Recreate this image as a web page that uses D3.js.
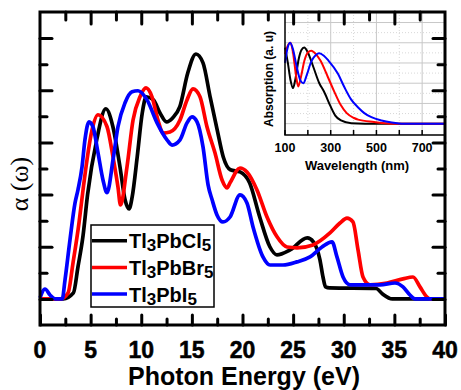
<!DOCTYPE html>
<html>
<head>
<meta charset="utf-8">
<script src="https://cdn.jsdelivr.net/npm/d3@7"></script>
<style>
body{margin:0;background:#fff;}
svg{display:block;font-family:"Liberation Sans",Arial,sans-serif;}
</style>
</head>
<body>
<svg id="chart" width="461" height="390"></svg>
<script>
// main panel: alpha(omega) vs photon energy (eV)
var energyMajor = [0,5,10,15,20,25,30,35,40];
var energyMinor = [2.5,7.5,12.5,17.5,22.5,27.5,32.5,37.5];
var alphaMajor = [0,2,4,6,8,10];
var alphaMinor = [1,3,5,7,9];

var tlCl = [[0,0],[2.3,0],[3.3,0.23],[3.75,1.23],[4.25,2.42],[4.7,4.0],[5.6,6.1],[6.5,7.29],[7.2,6.6],[7.9,5.06],
  [8.4,3.8],[8.8,3.45],[9.1,3.9],[9.6,5.44],[10.1,7.13],[10.5,7.75],[11.2,7.63],[11.85,7.13],[12.5,6.79],[13.1,6.94],
  [13.8,7.36],[14.6,8.67],[15.4,9.39],[16.1,9.05],[16.8,7.75],[17.5,6.48],[18.1,5.44],[18.8,4.95],[19.75,4.87],
  [20.7,4.45],[21.7,3.14],[22.7,2.0],[23.4,1.69],[24.7,1.88],[26.4,2.34],[27.0,2.19],[27.65,1.5],[27.95,0.84],
  [28.2,0.46],[28.6,0.42],[33.2,0.4],[33.8,0.2],[34.8,0],[40,0]];
var tlBr = [[0,0],[2.0,0],[2.77,0.23],[3.26,1.38],[3.85,2.91],[4.25,4.18],[4.64,5.33],[5.14,6.48],[5.73,7.06],
  [6.62,6.6],[7.21,5.44],[7.7,4.29],[7.95,3.6],[8.59,5.06],[9.19,6.86],[9.88,7.75],[10.47,8.09],[11.06,7.75],
  [11.65,6.86],[12.15,6.36],[12.84,6.4],[13.83,6.86],[14.52,7.63],[15.11,8.05],[15.8,7.75],[16.49,6.6],[17.28,5.6],
  [17.98,4.56],[18.47,4.26],[18.77,4.45],[19.75,5.02],[20.44,4.87],[21.43,4.18],[22.42,3.14],[23.41,2.38],
  [24.4,1.99],[25.38,1.96],[26.96,2.07],[28.64,2.53],[29.63,2.91],[30.32,3.1],[30.91,2.95],[31.41,1.88],
  [31.9,0.84],[32.6,0.54],[34.27,0.61],[35.85,0.77],[36.84,0.84],[37.53,0.46],[38.2,0.08],[38.5,0],[40,0]];
var tlI = [[0,0.04],[0.49,0.38],[0.99,0.15],[1.5,0],[2.2,0],[2.47,0.73],[2.96,2.26],[3.46,3.68],[3.75,4.18],
  [4.15,5.06],[4.44,6.1],[4.84,6.79],[5.23,6.6],[5.73,5.6],[6.22,4.56],[6.62,4.07],[7.21,5.33],[7.7,6.6],
  [8.4,7.52],[9.09,7.94],[9.68,7.98],[10.57,7.63],[11.56,6.75],[12.54,6.1],[13.04,5.9],[13.83,6.1],[14.52,6.75],
  [15.01,6.98],[15.51,6.79],[16.1,5.83],[16.6,4.37],[17.0,3.8],[17.48,3.22],[18.07,2.95],[18.77,3.14],
  [19.75,3.99],[20.44,3.68],[21.04,2.76],[22.02,1.61],[22.72,1.3],[24.0,1.3],[25.38,1.42],[26.67,1.61],
  [27.85,1.99],[28.84,2.19],[29.33,1.61],[29.93,0.84],[30.62,0.54],[33.58,0.54],[35.06,0.61],[35.85,0.46],
  [36.54,0.15],[37.04,0],[40,0]];

// inset: absorption vs wavelength (nm)
var waveLabels = [100,300,500,700];
var waveTicks = [100,200,300,400,500,600,700,800];
var waveGridMajor = [300,500,700];
var waveGridMinor = [200,400,600];
var absGridMajor = [0,0.25,0.5,0.75,1,1.25];
var absGridMinor = [0.125,0.375,0.625,0.875,1.125];

var absCl = [[100,0.94],[112,0.76],[124,0.54],[135,0.44],[146,0.56],[160,0.8],[172,0.91],[184,0.94],[200,0.88],
  [224,0.7],[250,0.5],[270,0.4],[300,0.21],[320,0.1],[345,0.04],[390,0.005],[450,0],[800,0]];
var absBr = [[100,0.86],[110,0.95],[124,1.0],[135,0.88],[148,0.6],[158,0.46],[170,0.58],[185,0.78],[200,0.88],
  [215,0.9],[235,0.86],[255,0.78],[287,0.58],[315,0.4],[344,0.23],[370,0.13],[402,0.07],[420,0.05],[490,0.02],
  [560,0],[800,0]];
var absI = [[100,0.75],[110,0.92],[122,1.0],[135,0.92],[150,0.72],[168,0.53],[180,0.5],[195,0.6],[215,0.77],
  [235,0.85],[250,0.87],[270,0.84],[290,0.78],[331,0.62],[360,0.45],[389,0.3],[420,0.2],[447,0.13],[478,0.08],
  [522,0.04],[567,0.015],[620,0],[800,0]];

var colors = ["#000000","#ff0000","#0000ff"];
var legendNames = [["Tl","3","PbCl","5"],["Tl","3","PbBr","5"],["Tl","3","PbI","5"]];

var svg = d3.select("#chart");
var x = d3.scaleLinear().domain([0,40]).range([40,445]);
var y = d3.scaleLinear().domain([-1,11]).range([325,12]);

svg.append("rect").attr("width",461).attr("height",390).attr("fill","#fff");

function ticks(gen, vals, size, tr){
  var g = svg.append("g").attr("transform",tr)
    .call(gen.tickValues(vals).tickSize(size).tickFormat(""));
  g.select(".domain").remove();
  g.selectAll("line").attr("stroke","#000").attr("stroke-width",3).attr("stroke-linecap","round");
  return g;
}

// main curves
var line = d3.line()
  .x(function(d){ return x(d[0]); })
  .y(function(d){ return y(d[1]); })
  .curve(d3.curveMonotoneX);

svg.selectAll(".curve")
  .data([tlCl,tlBr,tlI])
  .enter()
  .append("path")
  .attr("class","curve")
  .attr("d",line)
  .attr("fill","none")
  .attr("stroke",function(d,i){ return colors[i]; })
  .attr("stroke-width",3.7)
  .attr("stroke-linejoin","round");

// bottom + left ticks
ticks(d3.axisBottom(x), energyMajor, -10, "translate(0,325)");
ticks(d3.axisBottom(x), energyMinor, -6, "translate(0,325)");
ticks(d3.axisLeft(y), alphaMajor, -12, "translate(40,0)");
ticks(d3.axisLeft(y), alphaMinor, -7, "translate(40,0)");

svg.append("g").selectAll("text")
  .data(energyMajor)
  .enter()
  .append("text")
  .attr("x",function(d){ return x(d); })
  .attr("y",358)
  .attr("text-anchor","middle")
  .attr("font-size",23)
  .attr("font-weight","bold")
  .attr("stroke","#000").attr("stroke-width",0.5)
  .text(function(d){ return d; });

svg.append("text")
  .attr("x",244).attr("y",385)
  .attr("text-anchor","middle")
  .attr("font-size",25)
  .attr("font-weight","bold")
  .text("Photon Energy (eV)");

svg.append("text")
  .attr("transform","translate(28,184) rotate(-90)")
  .attr("text-anchor","middle")
  .attr("font-family","'Liberation Serif','Times New Roman',serif")
  .attr("font-size",26)
  .text("\u03B1 (\u03C9)");

// legend
var legend = svg.append("g");
legend.append("rect")
  .attr("x",91).attr("y",225).attr("width",123).attr("height",82)
  .attr("fill","#fff").attr("stroke","#000").attr("stroke-width",1.5);

var rows = legend.selectAll(".row")
  .data(legendNames)
  .enter()
  .append("g")
  .attr("class","row")
  .attr("transform",function(d,i){ return "translate(0," + (240.7 + i*26.7) + ")"; });

rows.append("line")
  .attr("x1",92).attr("x2",127)
  .attr("stroke",function(d,i){ return colors[i]; })
  .attr("stroke-width",3.5);

var label = rows.append("text")
  .attr("x",129).attr("y",7.5)
  .attr("font-size",20)
  .attr("font-weight","bold");
label.each(function(d){
  var t = d3.select(this);
  t.append("tspan").text(d[0]);
  t.append("tspan").attr("dy",3).attr("font-size",17).text(d[1]);
  t.append("tspan").attr("dy",-3).text(d[2]);
  t.append("tspan").attr("dy",3).attr("font-size",17).text(d[3]);
});

// inset
var ix = d3.scaleLinear().domain([100,800]).range([285,445]);
var iy = d3.scaleLinear().domain([-0.14,1.38]).range([135,12]);

var inset = svg.append("g");
inset.append("rect").attr("x",285).attr("y",12).attr("width",160).attr("height",123).attr("fill","#fff");

inset.selectAll(".hmaj").data(absGridMajor).enter().append("line")
  .attr("x1",285).attr("x2",445)
  .attr("y1",function(d){ return iy(d); }).attr("y2",function(d){ return iy(d); })
  .attr("stroke","#c8c8c8").attr("stroke-width",1);
inset.selectAll(".hmin").data(absGridMinor).enter().append("line")
  .attr("x1",285).attr("x2",445)
  .attr("y1",function(d){ return iy(d); }).attr("y2",function(d){ return iy(d); })
  .attr("stroke","#d8d8d8").attr("stroke-width",1).attr("stroke-dasharray","1,2");
inset.selectAll(".vmaj").data(waveGridMajor).enter().append("line")
  .attr("y1",12).attr("y2",135)
  .attr("x1",function(d){ return ix(d); }).attr("x2",function(d){ return ix(d); })
  .attr("stroke","#c8c8c8").attr("stroke-width",1);
inset.selectAll(".vmin").data(waveGridMinor).enter().append("line")
  .attr("y1",12).attr("y2",135)
  .attr("x1",function(d){ return ix(d); }).attr("x2",function(d){ return ix(d); })
  .attr("stroke","#d8d8d8").attr("stroke-width",1).attr("stroke-dasharray","1,2");

var iline = d3.line()
  .x(function(d){ return ix(d[0]); })
  .y(function(d){ return iy(d[1]); })
  .curve(d3.curveMonotoneX);

inset.selectAll(".icurve")
  .data([absCl,absBr,absI])
  .enter()
  .append("path")
  .attr("d",iline)
  .attr("fill","none")
  .attr("stroke",function(d,i){ return colors[i]; })
  .attr("stroke-width",2);

inset.selectAll(".itick").data(waveTicks).enter().append("line")
  .attr("x1",function(d){ return ix(d); }).attr("x2",function(d){ return ix(d); })
  .attr("y1",135).attr("y2",130)
  .attr("stroke","#000").attr("stroke-width",1.5);

inset.append("path")
  .attr("d","M285,12V135H445")
  .attr("fill","none").attr("stroke","#000").attr("stroke-width",1.5);

inset.selectAll(".ilab").data(waveLabels).enter().append("text")
  .attr("x",function(d){ return ix(d); })
  .attr("y",152)
  .attr("text-anchor","middle")
  .attr("font-size",12.5)
  .attr("font-weight","bold")
  .text(function(d){ return d; });

inset.append("text")
  .attr("x",357).attr("y",170)
  .attr("text-anchor","middle")
  .attr("font-size",13)
  .attr("font-weight","bold")
  .text("Wavelength (nm)");

inset.append("text")
  .attr("transform","translate(273,79) rotate(-90)")
  .attr("text-anchor","middle")
  .attr("font-size",12)
  .attr("font-weight","bold")
  .text("Absorption (a. u)");

// top + right ticks sit over the inset
ticks(d3.axisTop(x), energyMajor.slice(1,-1), -12, "translate(0,12)");
ticks(d3.axisTop(x), energyMinor, -8, "translate(0,12)");
ticks(d3.axisRight(y), alphaMajor, -12, "translate(445,0)");
ticks(d3.axisRight(y), alphaMinor, -7, "translate(445,0)");

// frame
svg.append("rect")
  .attr("x",40).attr("y",12).attr("width",405).attr("height",313)
  .attr("fill","none").attr("stroke","#000").attr("stroke-width",3);
</script>
</body>
</html>
